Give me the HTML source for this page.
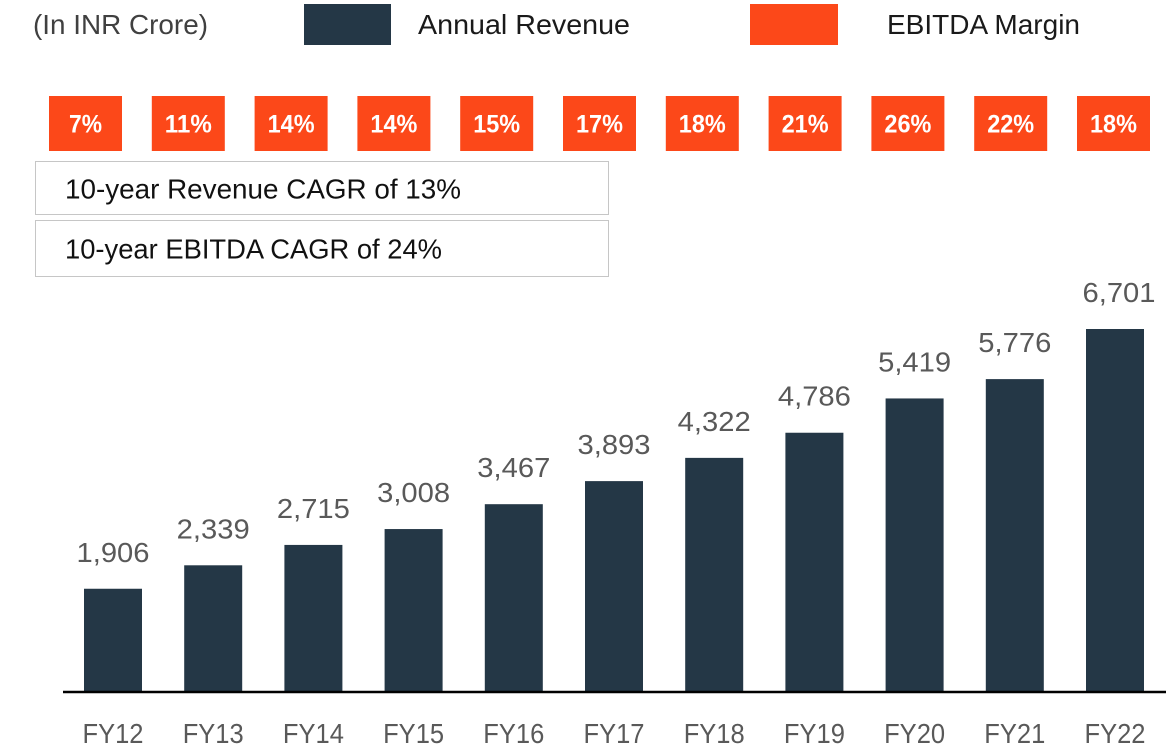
<!DOCTYPE html>
<html>
<head>
<meta charset="utf-8">
<style>
html,body{margin:0;padding:0;background:#fff;}
svg{display:block;font-family:"Liberation Sans",sans-serif;}
</style>
</head>
<body>
<svg id="chart" width="1166" height="751" viewBox="0 0 1166 751" xmlns="http://www.w3.org/2000/svg">
  <rect x="0" y="0" width="1166" height="751" fill="#ffffff"/>
  <text x="33" y="34" font-size="28" fill="#404040" textLength="175" lengthAdjust="spacingAndGlyphs">(In INR Crore)</text>
  <rect x="304" y="4" width="87" height="41" fill="#243746"/>
  <text x="418" y="34" font-size="28" fill="#1a1a1a" textLength="212" lengthAdjust="spacingAndGlyphs">Annual Revenue</text>
  <rect x="750" y="4" width="88" height="41" fill="#fc4819"/>
  <text x="887" y="34" font-size="28" fill="#1a1a1a" textLength="193" lengthAdjust="spacingAndGlyphs">EBITDA Margin</text>
  <rect x="35.5" y="161.5" width="573" height="53" fill="none" stroke="#8c8c8c" stroke-dasharray="1 1"/>
  <text x="65" y="198.5" font-size="28" fill="#111111" textLength="396" lengthAdjust="spacingAndGlyphs">10-year Revenue CAGR of 13%</text>
  <rect x="35.5" y="220.5" width="573" height="56" fill="none" stroke="#8c8c8c" stroke-dasharray="1 1"/>
  <text x="65" y="258.5" font-size="28" fill="#111111" textLength="377" lengthAdjust="spacingAndGlyphs">10-year EBITDA CAGR of 24%</text>
  <g id="margins"></g>
  <g id="bars"></g>
  <line x1="63" y1="692" x2="1166" y2="692" stroke="#000000" stroke-width="2.5"/>
</svg>
<script>
const categories = ["FY12","FY13","FY14","FY15","FY16","FY17","FY18","FY19","FY20","FY21","FY22"];
const revenue = [1906,2339,2715,3008,3467,3893,4322,4786,5419,5776,6701];
const margins = [7,11,14,14,15,17,18,21,26,22,18];

const NS = "http://www.w3.org/2000/svg";
const baseY = 692, pxPerUnit = 363 / 6701;
const xFirst = 113, xStep = 100.2, barW = 58;
const marginFirst = 85.5, marginStep = 102.8;

function xScale(i){ return xFirst + i * xStep; }
function yScale(v){ return baseY - v * pxPerUnit; }
function marginX(i){ return marginFirst + i * marginStep; }
function fmt(v){ return v.toLocaleString("en-US"); }
function make(tag, attrs, text){
  const el = document.createElementNS(NS, tag);
  for (const k in attrs) el.setAttribute(k, attrs[k]);
  if (text !== undefined) el.textContent = text;
  return el;
}

const barsG = document.getElementById("bars");
const marginsG = document.getElementById("margins");

categories.forEach(function(cat, i){
  const cx = xScale(i), top = yScale(revenue[i]);

  const bar = make("rect", {x: cx - barW/2, y: top, width: barW, height: baseY - top, fill: "#243746"});
  
  
  barsG.appendChild(bar);

  const labelX = i === categories.length - 1 ? cx + 4 : cx;
  const val = make("text", {x: labelX, y: top - 27, "font-size": 28, fill: "#595959", "text-anchor": "middle", textLength: 73, lengthAdjust: "spacingAndGlyphs"}, fmt(revenue[i]));
  
  
  barsG.appendChild(val);

  const tick = make("text", {x: cx, y: 743, "font-size": 28, fill: "#595959", "text-anchor": "middle", textLength: 61, lengthAdjust: "spacingAndGlyphs"}, cat);
  
  
  barsG.appendChild(tick);

  const mx = marginX(i);
  const box = make("rect", {x: mx - 36.5, y: 96, width: 73, height: 55, fill: "#fc4819"});
  
  
  marginsG.appendChild(box);

  const label = margins[i] + "%";
  const mt = make("text", {x: mx, y: 132.5, "font-size": 25, "font-weight": "bold", fill: "#ffffff", "text-anchor": "middle", textLength: label.length === 2 ? 33 : 47, lengthAdjust: "spacingAndGlyphs"}, label);
  
  
  marginsG.appendChild(mt);
});
</script>
</body>
</html>
